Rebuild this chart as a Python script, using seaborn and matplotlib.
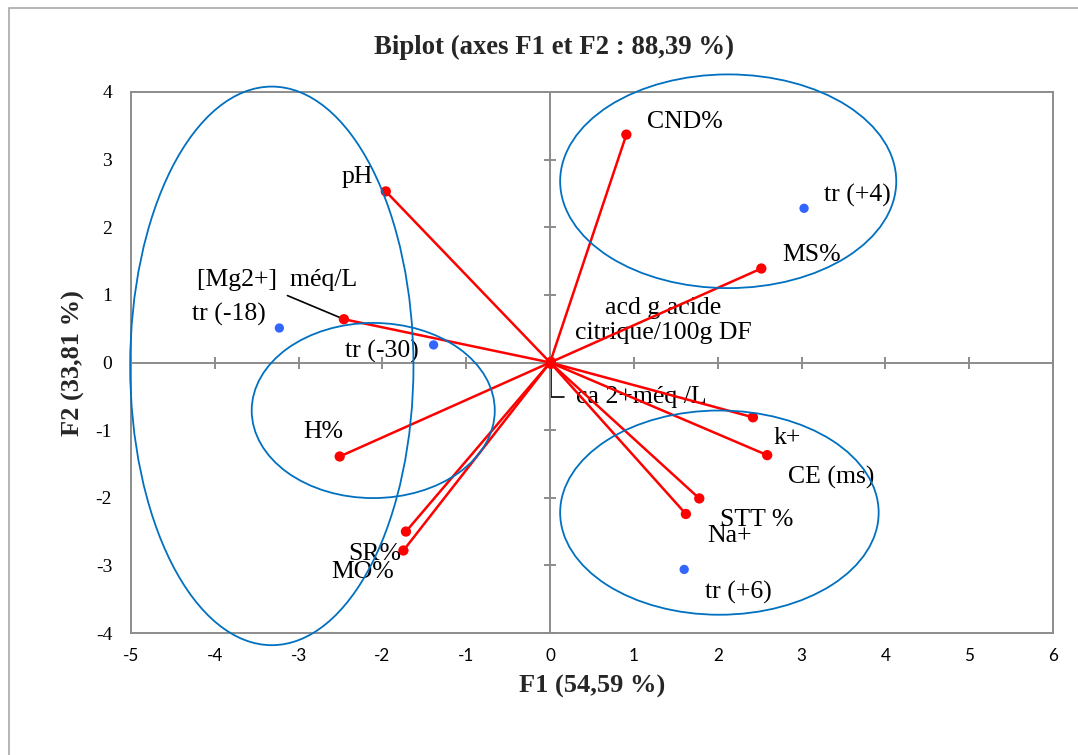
import matplotlib
matplotlib.use("Agg")
import matplotlib.pyplot as plt
from matplotlib.patches import Ellipse, Rectangle
import seaborn as sns
import numpy as np
import pandas as pd

# ---- data ----
var_names = ["CND%", "pH", "MS%", "[Mg2+]  méq/L", "acd g acide\ncitrique/100g DF",
             "ca 2+méq /L", "H%", "k+", "CE (ms)", "STT %", "Na+", "SR%", "MO%"]
var_f1 = [0.91, -1.96, 2.52, -2.46, 0.01, 0.01, -2.51, 2.42, 2.59, 1.78, 1.62, -1.72, -1.75]
var_f2 = [3.37, 2.53, 1.39, 0.64, 0.01, -0.02, -1.39, -0.81, -1.37, -2.01, -2.24, -2.50, -2.78]

obs_names = ["tr (+4)", "tr (-18)", "tr (-30)", "tr (+6)"]
obs_f1 = [3.03, -3.23, -1.39, 1.60]
obs_f2 = [2.28, 0.51, 0.26, -3.06]

# groups drawn by hand (centre, width, height in axis units)
grp_cx = [-3.32, 2.125, -2.11, 2.02]
grp_cy = [-0.05, 2.68, -0.71, -2.22]
grp_w = [3.38, 4.01, 2.90, 3.80]
grp_h = [8.26, 3.16, 2.59, 3.02]

xticks = list(range(-5, 7))
yticks = list(range(-4, 5))

# label offsets in pixels (left/center x, baseline y)
var_off = {
    "CND%": (21, 7, "left"), "pH": (-44, 8, "left"), "MS%": (21, 8, "left"),
    "[Mg2+]  méq/L": (-147, 33, "left"),
    "acd g acide\ncitrique/100g DF": (112, 23, "center"),
    "ca 2+méq /L": (25, -39, "left"), "H%": (-36, 18, "left"),
    "k+": (21, -27, "left"), "CE (ms)": (21, -28, "left"), "STT %": (21, -28, "left"),
    "Na+": (21, -28, "left"), "SR%": (-58, -28, "left"), "MO%": (-72, -28, "left"),
}
obs_off = {"tr (+4)": (20, 7), "tr (-18)": (-87, 7), "tr (-30)": (-89, -13), "tr (+6)": (21, -29)}

sns.set_theme(style="white")
plt.rcParams["font.family"] = ["Liberation Serif", "DejaVu Serif"]
plt.rcParams["axes.unicode_minus"] = False

GREY = "#8c8c8c"
fig = plt.figure(figsize=(10.78, 7.55), dpi=100)
fig.patches.append(Rectangle((9 / 1078, -0.2), 1.2, 0.2 + 1 - 8 / 755, transform=fig.transFigure,
                             fill=False, edgecolor="#a0a0a0", linewidth=1.1, zorder=0))
ax = fig.add_axes([131 / 1078, 1 - 633 / 755, 922 / 1078, 541 / 755])
ax.set_xlim(-5, 6)
ax.set_ylim(-4, 4)

for s in ax.spines.values():
    s.set_color(GREY)
    s.set_linewidth(1.4)

ax.axhline(0, color=GREY, lw=1.4, zorder=2)
ax.axvline(0, color=GREY, lw=1.4, zorder=2)
ax.plot(xticks, np.zeros(len(xticks)), ls="none", marker="|", ms=8.5, mew=1.4, color=GREY, zorder=2)
ax.plot(np.zeros(len(yticks)), yticks, ls="none", marker="_", ms=8.5, mew=1.4, color=GREY, zorder=2)

ax.set_xticks(xticks)
ax.set_yticks(yticks)
ax.set_xticklabels([str(t) for t in xticks], fontfamily="Lato", fontsize=12.3, color="black")
ax.set_yticklabels([str(t) for t in yticks], fontsize=14, color="black")
ax.tick_params(axis="x", length=0, pad=10.5)
ax.tick_params(axis="y", length=0, pad=13.5)
ax.grid(False)

# vectors
for x, y in zip(var_f1, var_f2):
    ax.plot([0, x], [0, y], color="#ff0000", lw=1.8, zorder=3, solid_capstyle="round")

df_var = pd.DataFrame({"F1": var_f1, "F2": var_f2})
df_obs = pd.DataFrame({"F1": obs_f1, "F2": obs_f2})
sns.scatterplot(data=df_var, x="F1", y="F2", color="#ff0000", s=55, edgecolor="none", ax=ax, zorder=4)
sns.scatterplot(data=df_obs, x="F1", y="F2", color="#3366ff", s=45, edgecolor="none", ax=ax, zorder=4)
ax.set_xlabel("")
ax.set_ylabel("")

for name, x, y in zip(var_names, var_f1, var_f2):
    dx, dy, ha = var_off[name]
    kw = {}
    if name.startswith("[Mg"):
        kw["arrowprops"] = dict(arrowstyle="-", color="black", lw=1.2, relpos=(0.5, 0.0),
                                shrinkA=2, shrinkB=0)
    elif name.startswith("ca 2"):
        kw["arrowprops"] = dict(arrowstyle="-", color="black", lw=1.2, relpos=(0.0, 0.5),
                                shrinkA=6, shrinkB=0,
                                connectionstyle="angle,angleA=0,angleB=90,rad=0")
    ax.annotate(name, (x, y), xytext=(dx, dy), textcoords="offset pixels",
                ha=ha, va="baseline", fontsize=18.5, color="black", zorder=1.5,
                linespacing=1.18, **kw)

for name, x, y in zip(obs_names, obs_f1, obs_f2):
    dx, dy = obs_off[name]
    ax.annotate(name, (x, y), xytext=(dx, dy), textcoords="offset pixels",
                ha="left", va="baseline", fontsize=18.5, color="black", zorder=1.5)

for cx, cy, w, h in zip(grp_cx, grp_cy, grp_w, grp_h):
    ax.add_patch(Ellipse((cx, cy), w, h, fill=False, edgecolor="#0070c0", lw=1.3,
                         zorder=5, clip_on=False))

fig.text(554 / 1078, 1 - 53.5 / 755, "Biplot (axes F1 et F2 : 88,39 %)", ha="center",
         va="baseline", fontsize=19.3, fontweight="bold")
fig.text(592 / 1078, 1 - 693 / 755, "F1 (54,59 %)", ha="center", va="baseline",
         fontsize=19, fontweight="bold")
fig.text(73 / 1078, 1 - 363.5 / 755, "F2 (33,81 %)", ha="center", va="center",
         rotation=90, fontsize=19, fontweight="bold")

fig.savefig("out.png", dpi=100)
